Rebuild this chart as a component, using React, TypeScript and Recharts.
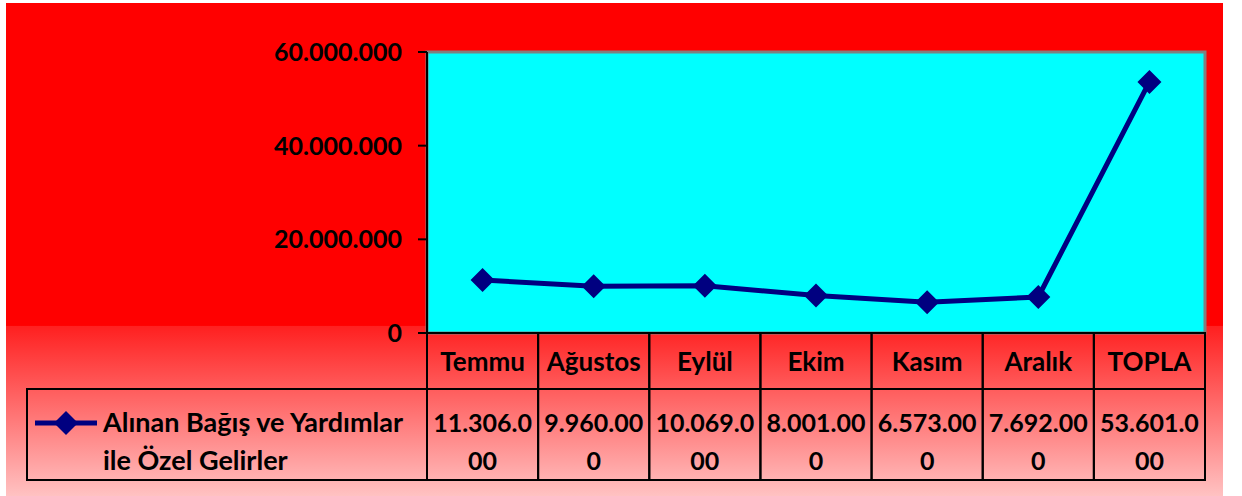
import React from 'react'
import {
  LineChart,
  Line,
  XAxis,
  YAxis,
  CartesianGrid,
  ReferenceArea,
} from 'recharts'

const months = ['Temmu', 'Ağustos', 'Eylül', 'Ekim', 'Kasım', 'Aralık', 'TOPLA']
const amounts = [11306000, 9960000, 10069000, 8001000, 6573000, 7692000, 53601000]
const yTicks = [0, 20000000, 40000000, 60000000]
const seriesName = ['Alınan Bağış ve Yardımlar', 'ile Özel Gelirler']

const data = months.map((m, i) => ({ month: m, value: amounts[i] }))

const FONT = 'Lato, "Open Sans", sans-serif'
const NAVY = '#000080'

const fmt = (v: number) => v.toLocaleString('de-DE')

// Excel wraps the numbers in the data table after 8 chars
const wrapNum = (v: number) => {
  const s = fmt(v)
  return [s.slice(0, 8), s.slice(8)]
}

const Diamond = (props: any) => {
  const { cx, cy } = props
  const r = 12
  return (
    <path
      d={`M${cx},${cy - r} L${cx + r},${cy} L${cx},${cy + r} L${cx - r},${cy} Z`}
      fill={NAVY}
    />
  )
}

const TableTick = (props: any) => {
  const { x, y, payload, width } = props
  const bw = width / months.length
  const left = x - bw / 2
  const headH = 56
  const rowH = 91
  const [a, b] = wrapNum(amounts[payload.index])
  const txt = { fontFamily: FONT, fontWeight: 700, fill: '#000', textAnchor: 'middle' as const }
  return (
    <g>
      <rect x={left} y={y} width={bw} height={headH} fill="none" stroke="#000" strokeWidth={2} />
      <text x={x} y={y + 38} fontSize={26} {...txt}>{payload.value}</text>
      <rect x={left} y={y + headH} width={bw} height={rowH} fill="none" stroke="#000" strokeWidth={2} />
      <text x={x} y={y + headH + 43} fontSize={25} {...txt}>{a}</text>
      <text x={x} y={y + headH + 81} fontSize={25} {...txt}>{b}</text>
      {payload.index === 0 && (
        <g>
          <rect x={27} y={y + headH} width={left - 27} height={rowH} fill="none" stroke="#000" strokeWidth={2} />
          <line x1={35} x2={97} y1={y + headH + 34} y2={y + headH + 34} stroke={NAVY} strokeWidth={5} />
          <Diamond cx={66} cy={y + headH + 34} />
          <text x={103} y={y + headH + 43} fontSize={27} {...txt} textAnchor="start">{seriesName[0]}</text>
          <text x={103} y={y + headH + 81} fontSize={27} {...txt} textAnchor="start">{seriesName[1]}</text>
        </g>
      )}
    </g>
  )
}

export default function App() {
  return (
    <div style={{ position: 'absolute', left: 0, top: 0, width: 1242, height: 496, background: '#fff' }}>
      <div
        style={{
          position: 'absolute',
          left: 6,
          top: 3,
          width: 1217,
          height: 493,
          background:
            'linear-gradient(to bottom, #ff0000 0%, #ff0000 65.4%, #ff2020 65.6%, #ffc2c2 100%)',
        }}
      />
      <div style={{ position: 'absolute', left: 0, top: 0 }}>
        <LineChart width={1242} height={496} data={data} margin={{ top: 52, right: 37, left: 0, bottom: 0 }}>
          <CartesianGrid fill="#00ffff" stroke="transparent" />
          <ReferenceArea y1={0} y2={60000000} fill="none" stroke="#808080" strokeWidth={3} ifOverflow="visible" />
          <XAxis
            dataKey="month"
            scale="band"
            height={163}
            interval={0}
            tickLine={false}
            tickSize={0}
            tickMargin={0}
            axisLine={{ stroke: '#000', strokeWidth: 2 }}
            tick={<TableTick />}
          />
          <YAxis
            width={427}
            domain={[0, 60000000]}
            ticks={yTicks}
            interval={0}
            tickFormatter={fmt}
            axisLine={{ stroke: '#000', strokeWidth: 2 }}
            tickLine={{ stroke: '#000', strokeWidth: 2 }}
            tickSize={9}
            tickMargin={16}
            tick={{ fontFamily: FONT, fontWeight: 700, fontSize: 25, fill: '#000' }}
          />
          <Line
            type="linear"
            dataKey="value"
            stroke={NAVY}
            strokeWidth={5}
            dot={<Diamond />}
            activeDot={false}
            isAnimationActive={false}
          />
        </LineChart>
      </div>
    </div>
  )
}
